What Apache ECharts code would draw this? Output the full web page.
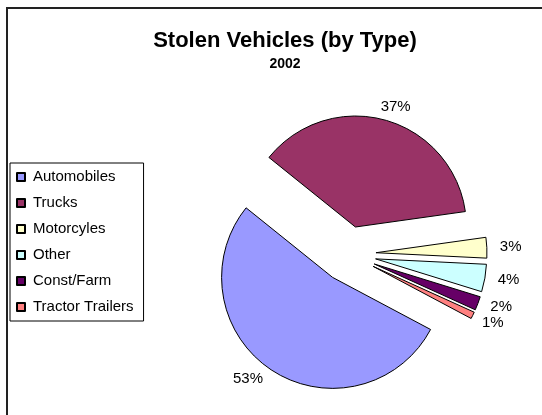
<!DOCTYPE html>
<html>
<head>
<meta charset="utf-8">
<script src="https://cdn.jsdelivr.net/npm/echarts@6/dist/echarts.min.js"></script>
<style>
    html, body {
        margin: 0;
        padding: 0;
        background: #ffffff;
    }

    #chart {
        width: 542px;
        height: 415px;
    }
</style>
</head>
<body>
<div id="chart"></div>
<script>
    var categories = ['Automobiles', 'Trucks', 'Motorcyles', 'Other', 'Const/Farm', 'Tractor Trailers'];
    var shares = [53, 37, 3, 4, 2, 1];
    var colors = ['#9999ff', '#993366', '#ffffcc', '#ccffff', '#660066', '#ff8080'];

    var font = '"Liberation Sans", Arial, sans-serif';

    var pieData = categories.map(function (name, i) {
        var item = {
            name: name,
            value: shares[i],
            selected: true,
            itemStyle: {color: colors[i]}
        };
        // a couple of labels sit a little differently from the rest
        if (name === 'Trucks') {
            item.labelLine = {length: 14, length2: 0};
            item.label = {distanceToLabelLine: -8};
        }
        if (name === 'Tractor Trailers') {
            item.labelLine = {length: 17, length2: 0};
            item.label = {distanceToLabelLine: -6};
        }
        return item;
    });

    echarts.init(document.getElementById('chart')).setOption({
        animation: false,
        title: {
            text: 'Stolen Vehicles (by Type)',
            subtext: '2002',
            left: 280,
            textAlign: 'center',
            top: 25,
            itemGap: 5,
            textStyle: {
                fontFamily: font,
                fontSize: 22,
                fontWeight: 'bold',
                color: '#000'
            },
            subtextStyle: {
                fontFamily: font,
                fontSize: 14,
                fontWeight: 'bold',
                color: '#000'
            }
        },
        legend: {
            orient: 'vertical',
            left: 10,
            top: 163,
            icon: 'rect',
            itemWidth: 8,
            itemHeight: 8,
            itemGap: 10,
            padding: [6, 10, 6, 6],
            borderColor: '#000',
            borderWidth: 1,
            selectedMode: false,
            textStyle: {
                fontFamily: font,
                fontSize: 15,
                lineHeight: 16,
                color: '#000',
                padding: [0, 0, 0, 3]
            },
            data: categories
        },
        graphic: [{
            type: 'rect',
            shape: {x: 7, y: 8, width: 600, height: 600},
            style: {fill: 'none', stroke: '#222', lineWidth: 2},
            silent: true
        }],
        series: [
            {
                name: 'vehicles',
                type: 'pie',
                center: [348, 254],
                radius: 111,
                startAngle: -28,
                clockwise: true,
                selectedMode: 'multiple',
                selectedOffset: 28,
                avoidLabelOverlap: false,
                labelLayout: {hideOverlap: false},
                emphasis: {disabled: true},
                itemStyle: {
                    borderColor: '#000',
                    borderWidth: 1
                },
                label: {
                    show: true,
                    position: 'outside',
                    formatter: '{c}%',
                    fontFamily: font,
                    fontSize: 15,
                    color: '#000',
                    distanceToLabelLine: 3
                },
                labelLine: {
                    show: false,
                    length: 10,
                    length2: 0
                },
                data: pieData
            }
        ]
    });
</script>
</body>
</html>
